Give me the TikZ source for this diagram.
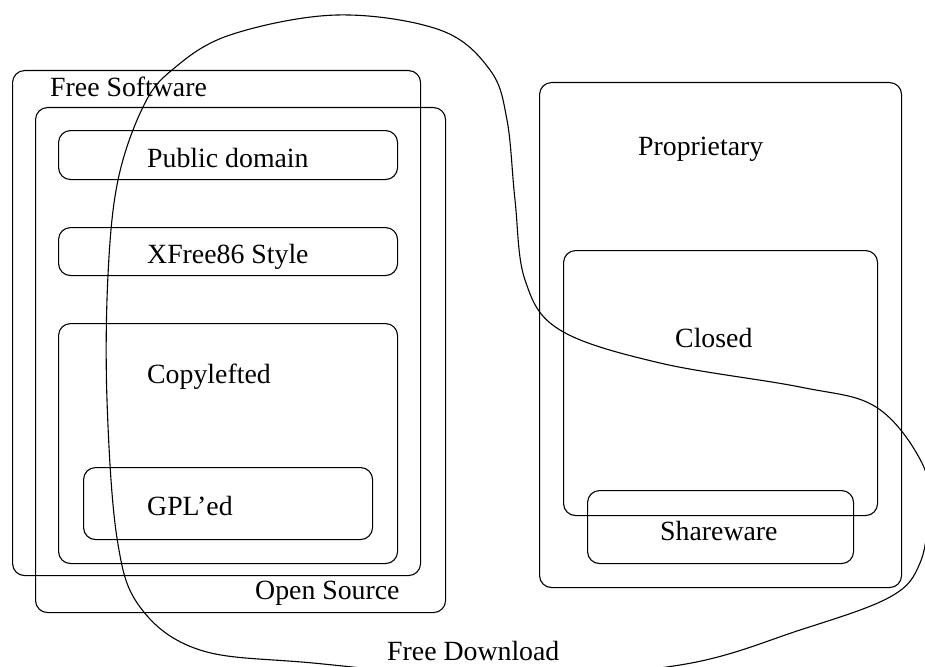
\documentclass[tikz,border=0pt]{standalone}
\usepackage{fontspec}
\setmainfont{Liberation Serif}
\begin{document}
\begin{tikzpicture}[x=1pt,y=-1pt,
  region/.style={draw, line width=1.1pt, rounded corners=12pt, inner sep=0pt, anchor=north west},
  lbl/.style={font=\fontsize{27.8}{30}\selectfont, inner sep=0pt, anchor=base west},
  loop/.style={draw, line width=1.1pt}]
\useasboundingbox (0,0) rectangle (925,666);
% free / open source side
\node[region, minimum width=408pt, minimum height=505pt] (fs) at (12,70) {};
\node[region, minimum width=410pt, minimum height=505pt] (os) at (35,107) {};
\node[region, minimum width=339pt, minimum height=49pt] (pd) at (58,130) {};
\node[region, minimum width=339pt, minimum height=48pt] (xf) at (58,227) {};
\node[region, minimum width=339pt, minimum height=240pt] (cl) at (58,323) {};
\node[region, minimum width=289pt, minimum height=72pt] (gpl) at (83,467) {};
% proprietary side
\node[region, minimum width=362pt, minimum height=505pt] (prop) at (539,82) {};
\node[region, minimum width=314pt, minimum height=265pt] (closed) at (563,250) {};
\node[region, minimum width=266pt, minimum height=73pt] (sw) at (587,490) {};
% labels
\node[lbl] (fsl) at (50,96) {Free Software};
\node[lbl] (osl) at (255,599) {Open Source};
\node[lbl] (pdl) at (147,167) {Public domain};
\node[lbl] (xfl) at (147,263) {XFree86 Style};
\node[lbl] (cll) at (147,383) {Copylefted};
\node[lbl] (gpll) at (147,515) {GPL'ed};
\node[lbl] (propl) at (638,155) {Proprietary};
\node[lbl] (closedl) at (675,347) {Closed};
\node[lbl] (swl) at (660,540) {Shareware};
\node[lbl] (fdl) at (387,660) {Free Download};
% free download loop
\begin{scope}
\clip (0,0) rectangle (925,666);
\draw[loop] plot[smooth cycle, tension=0.6] coordinates {
  (337,15) (440,30) (490,70) (507,120) (515,200) (525,280) (560,330)
  (660,363) (800,387) (876,407) (922,463) (928,510) (920,563) (890,597)
  (800,630) (680,665) (500,678) (313,663) (200,650) (140,607) (117,538)
  (107,400) (108,275) (118,180) (143,107) (172,70) (230,35)};
\end{scope}
\end{tikzpicture}
\end{document}
